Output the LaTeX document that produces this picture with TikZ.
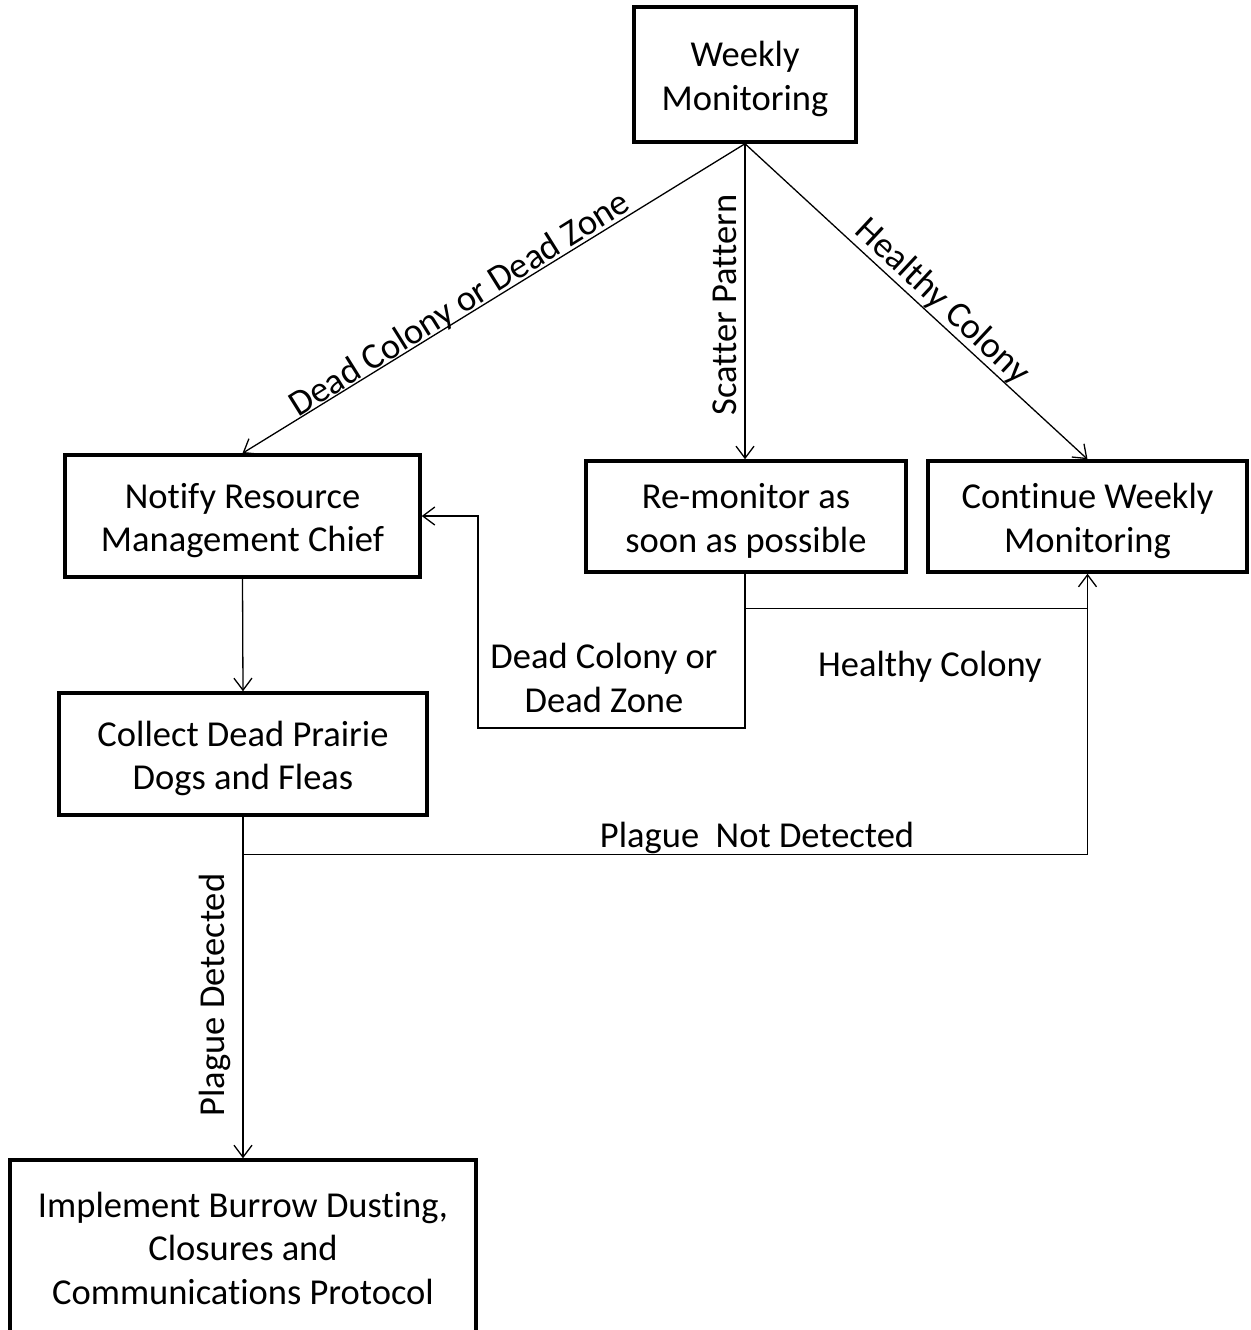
\documentclass[tikz,border=0pt]{standalone}
\usepackage{fontspec}
\setmainfont{Carlito}[Ligatures=CommonOff]
\usetikzlibrary{arrows.meta,calc}
\newcommand\tstart{\rule{0pt}{36pt}}
\newcommand\tend{\rule[-8pt]{0pt}{0pt}}
\begin{document}
\begin{tikzpicture}[x=1pt,y=-1pt,
  box/.style={draw,line width=3.5pt,align=center,inner sep=0pt,font=\fontsize{36.5}{43.5}\selectfont},
  lbl/.style={align=center,inner sep=0pt,font=\fontsize{36.5}{43.5}\selectfont},
  conn/.style={line width=1.3pt},
  arr/.style={conn,-{Straight Barb[length=12pt,width=18pt,line width=1.3pt]}}]
\useasboundingbox (0,0) rectangle (1250,1330);
\node[box,minimum width=222,minimum height=135] (W) at (745,74.5) {\tstart Weekly\\Monitoring\tend};
\node[box,minimum width=355,minimum height=122] (N) at (242.5,516) {\tstart Notify Resource\\Management Chief\tend};
\node[box,minimum width=320,minimum height=111] (R) at (746,516.5) {\tstart Re-monitor as\\soon as possible\tend};
\node[box,minimum width=319,minimum height=111] (C) at (1087.5,516.5) {\tstart Continue Weekly\\Monitoring\tend};
\node[box,minimum width=368,minimum height=122] (D) at (243,754) {\tstart Collect Dead Prairie\\Dogs and Fleas\tend};
\node[box,minimum width=466,minimum height=173] (I) at (243,1246.5) {\tstart Implement Burrow Dusting,\\Closures and\\Communications Protocol\tend};
\draw[arr] (W.south) -- (N.north);
\draw[arr] (W.south) -- (R.north -| W.south);
\draw[arr] (W.south) -- (C.north);
\draw[arr] (N.south) -- (D.north);
\coordinate (b1) at ($(R.south -| W.south)+(0,35)$);
\coordinate (b2) at (478,728);
\draw[arr] (R.south -| W.south) |- (b2) |- (N.east);
\draw[conn] (b1) -- (b1 -| C.south);
\coordinate (j) at ($(D.south)+(0,38)$);
\draw[arr] (D.south) |- (j -| C.south) -- (C.south);
\draw[arr] (j) -- (I.north);
\node[lbl,rotate=32] (l1) at (460,305) {Dead Colony or Dead Zone};
\node[lbl,rotate=90] (l2) at (725,305) {Scatter Pattern};
\node[lbl,rotate=-43] (l3) at (942,302) {Healthy Colony};
\node[lbl] (l4) at (604,678) {Dead Colony or\\Dead Zone};
\node[lbl] (l5) at (930,667) {Healthy Colony};
\node[lbl] (l6) at (757,838) {Plague\ \ Not Detected};
\node[lbl,rotate=90] (l7) at (215,995) {Plague Detected};
\end{tikzpicture}
\end{document}
